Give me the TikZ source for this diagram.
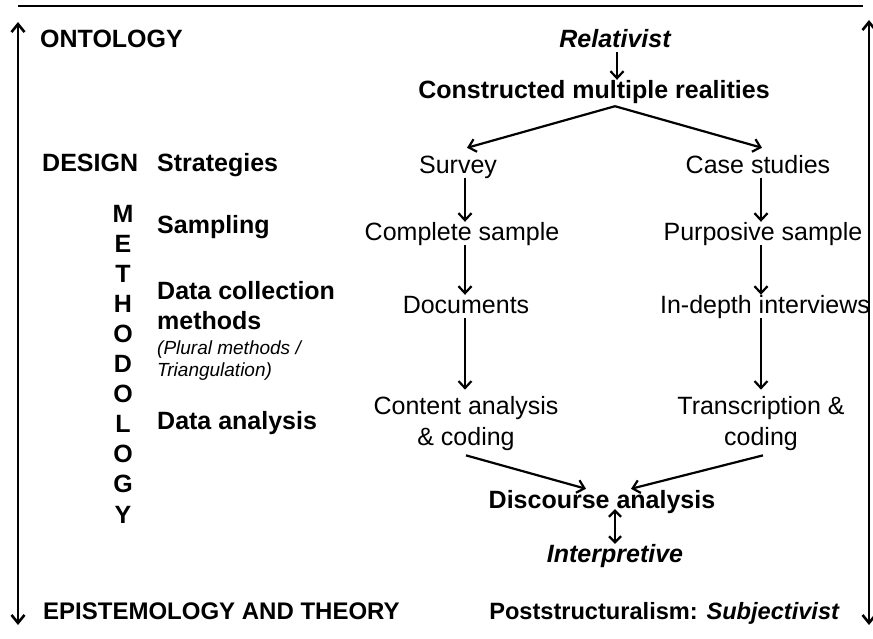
\documentclass[tikz,border=0pt]{standalone}
\usepackage{fontspec}
\setmainfont{Liberation Sans}
\usetikzlibrary{arrows.meta}

\begin{document}
\begin{tikzpicture}[x=1pt, y=-1pt,
        txt/.style={inner sep=0pt, text height=18pt, text depth=5pt},
        head/.style={txt, font=\fontsize{25}{31}\selectfont\bfseries},
        foot/.style={txt, font=\fontsize{24}{30}\selectfont\bfseries},
        item/.style={txt, font=\fontsize{25}{31}\selectfont},
        hint/.style={inner sep=0pt, text height=14pt, text depth=4pt,
                     font=\fontsize{19}{22}\selectfont\itshape},
        arr/.style={line width=2.2pt, -{Straight Barb[length=7pt,width=13pt]}},
        frame/.style={line width=2.6pt, {Straight Barb[length=8pt,width=13pt]}-{Straight Barb[length=8pt,width=13pt]}}]
    \useasboundingbox (0,0) rectangle (873,638);

    % rule on top and the two long arrows at the sides
    \coordinate (ltop) at (18,22);   \coordinate (lbot) at (18,625);
    \coordinate (rtop) at (869,20);  \coordinate (rbot) at (869,625);
    \draw[line width=2.6pt] (18,6) -- (863,6);
    \draw[frame] (ltop) -- (lbot);
    \draw[frame] (rtop) -- (rbot);

    % left column
    \node[head, anchor=west] (onto) at (40,40.5) {ONTOLOGY};
    \node[head, anchor=west] (design) at (42,164.5) {DESIGN};
    \node[head, anchor=west] (strat) at (157,164.5) {Strategies};
    \node[head, anchor=west] (samp) at (157,227) {Sampling};
    \node[head, anchor=west] (coll) at (157,292.5) {Data collection};
    \node[head, anchor=west] (collb) at (157,322.5) {methods};
    \node[hint, anchor=west] (plural) at (157,349) {(Plural methods /};
    \node[hint, anchor=west] (tri) at (157,371) {Triangulation)};
    \node[head, anchor=west] (anal) at (157,422.5) {Data analysis};
    \node[foot, anchor=west] (epist) at (43,612.5) {EPISTEMOLOGY AND THEORY};

    \foreach \l [count=\i from 0] in {M,E,T,H,O,D,O,L,O,G,Y}
        \node[head] (meth\i) at (123,{215.5+30.1*\i}) {\l};

    % the two branches
    \node[head, font=\fontsize{25}{31}\selectfont\bfseries\itshape] (rel) at (615,40.5) {Relativist};
    \node[head] (cons) at (594,91.5) {Constructed multiple realities};
    \coordinate (split) at ([xshift=21pt,yshift=-3pt]cons.south);

    \node[item] (survey) at (458,166.5) {Survey};
    \node[item] (case) at (758,166.5) {Case studies};
    \node[item] (compl) at (462,233.5) {Complete sample};
    \node[item] (purp) at (763,233.5) {Purposive sample};
    \node[item] (docs) at (466,306.5) {Documents};
    \node[item] (inter) at (765,306.5) {In-depth interviews};
    \node[inner sep=0pt, align=center, font=\fontsize{25}{31}\selectfont] (cont) at (466,424) {Content analysis\\\& coding};
    \node[inner sep=0pt, align=center, font=\fontsize{25}{31}\selectfont] (trans) at (761,424) {Transcription \&\\coding};

    \node[head] (disc) at (602,501.5) {Discourse analysis};
    \node[head, font=\fontsize{25}{31}\selectfont\bfseries\itshape] (interp) at (615,555.5) {Interpretive};
    \node[foot, font=\fontsize{23.6}{30}\selectfont\bfseries, anchor=east] (post) at (840,612.5) {Poststructuralism: \textit{Subjectivist}};

    % connectors
    \draw[arr] ([xshift=2pt]rel.south) -- ([xshift=2pt]rel.south |- cons.north);
    \draw[arr] (split) -- ([shift={(9pt,7pt)}]survey.north);
    \draw[arr] (split) -- ([shift={(4pt,7pt)}]case.north);
    \draw[arr] ([xshift=7pt]survey.south) -- ([xshift=7pt]survey.south |- compl.north);
    \draw[arr] ([xshift=3pt]case.south) -- ([xshift=3pt]case.south |- purp.north);
    \draw[arr] ([xshift=3pt]compl.south) -- ([xshift=3pt]compl.south |- docs.north);
    \draw[arr] ([xshift=-2pt]purp.south) -- ([xshift=-2pt]purp.south |- inter.north);
    \draw[arr] ([xshift=-1pt]docs.south) -- ([xshift=-1pt,yshift=7pt]docs.south |- cont.north);
    \draw[arr] ([xshift=-4pt]inter.south) -- ([xshift=-4pt,yshift=7pt]inter.south |- trans.north);
    \draw[arr] ([yshift=-4pt]cont.south) -- ([xshift=-16pt,yshift=1pt]disc.north);
    \draw[arr] ([xshift=2pt,yshift=-4pt]trans.south) -- ([xshift=29pt,yshift=1pt]disc.north);
    \draw[line width=2.2pt, {Straight Barb[length=6pt,width=12pt]}-{Straight Barb[length=6pt,width=12pt]}]
        ([xshift=13pt,yshift=4pt]disc.south) -- (interp.north);
\end{tikzpicture}
\end{document}
